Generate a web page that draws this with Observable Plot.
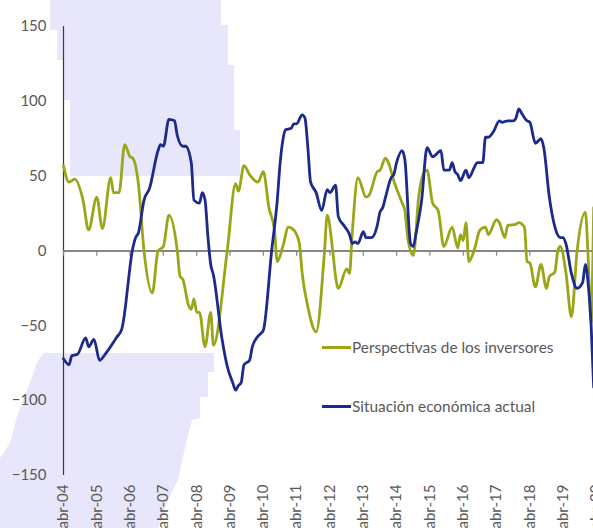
<!DOCTYPE html>
<html><head><meta charset="utf-8">
<script src="https://cdn.jsdelivr.net/npm/d3@7"></script>
<script src="https://cdn.jsdelivr.net/npm/@observablehq/plot@0.6"></script>
<style>
html,body{margin:0;padding:0;background:#fff;overflow:hidden;}
#wrap{position:relative;width:593px;height:528px;overflow:hidden;font-family:Lato,"Open Sans",sans-serif;}
#deco{position:absolute;left:0;top:0;}
#chart{position:absolute;left:0;top:0;}
.leg{position:absolute;font-size:15.4px;color:#595959;white-space:nowrap;line-height:20px;}
.sw{position:absolute;height:3px;width:29px;}
</style></head><body>
<div id="wrap">
<svg id="deco" width="593" height="528">
  <polygon fill="#E8E6FA" points="50,0 221,0 221,25 228,25 228,65 234,65 234,130 240,130 240,176 70,176 70,100 63,100 63,60 57,60 57,30 50,30"/>
  <polygon fill="#E8E6FA" points="44,353 214,353 214,372 208,372 208,397 200,397 200,418 192,420 186,443 178,480 168,500 158,528 0,528 0,458 10,443 18,413 31,380 37,362"/>
</svg>
<div id="chart"></div>
<div class="sw" style="left:322px;top:346px;background:#99A616"></div>
<div class="leg" style="left:352px;top:337px">Perspectivas de los inversores</div>
<div class="sw" style="left:322px;top:405px;background:#1C2A8E"></div>
<div class="leg" style="left:352px;top:396px">Situación económica actual</div>
</div>
<script>
const greenDates = ["2004-04","2004-06","2004-08","2004-11","2005-01","2005-04","2005-06","2005-09","2005-10","2005-12","2006-02","2006-04","2006-05","2006-07","2006-09","2006-12","2007-02","2007-04","2007-06","2007-09","2007-10","2007-11","2008-01","2008-02","2008-03","2008-04","2008-05","2008-07","2008-09","2008-10","2009-03","2009-06","2009-07","2009-09","2009-11","2010-02","2010-04","2010-06","2010-08","2010-09","2010-11","2011-01","2011-03","2011-05","2011-06","2011-08","2011-11","2012-02","2012-03","2012-05","2012-06","2012-07","2012-10","2012-11","2012-12","2013-02","2013-05","2013-06","2013-09","2013-10","2013-12","2014-01","2014-03","2014-06","2014-07","2014-08","2014-10","2014-12","2015-02","2015-03","2015-05","2015-07","2015-09","2015-12","2016-02","2016-03","2016-04","2016-05","2016-06","2016-08","2016-10","2016-12","2017-01","2017-04","2017-05","2017-07","2017-08","2017-11","2017-12","2018-02","2018-03","2018-04","2018-06","2018-08","2018-10","2018-11","2019-01","2019-02","2019-03","2019-05","2019-07","2019-09","2019-12","2020-01","2020-02","2020-03"];
const greenValues = [57,46,48,34,14,36,15,49,39,39,71,63,62,45,0,-28,0,3,24,0,-17,-19,-36,-39,-32,-41,-41,-64,-41,-63,0,45,40,57,51,46,53,29,14,-7,3,16,14,5,-15,-37,-54,0,24,0,-17,-25,-12,-15,12,49,36,37,53,54,62,59,47,32,27,9,-3,37,53,54,32,27,3,16,2,11,7,19,-7,1,14,16,11,21,19,9,17,18,19,16,-7,-8,-24,-9,-25,-17,-14,0,3,-14,-44,0,26,-5,-48,29];

const blueDates = ["2004-04","2004-06","2004-07","2004-09","2004-12","2005-01","2005-03","2005-05","2005-07","2005-10","2005-11","2006-01","2006-05","2006-06","2006-07","2006-09","2006-11","2007-02","2007-03","2007-04","2007-06","2007-08","2007-09","2007-11","2007-12","2008-02","2008-03","2008-05","2008-06","2008-07","2008-08","2008-09","2008-10","2009-01","2009-03","2009-05","2009-06","2009-07","2009-08","2009-09","2009-11","2009-12","2010-02","2010-04","2010-07","2010-09","2010-10","2010-11","2010-12","2011-02","2011-03","2011-04","2011-06","2011-07","2011-08","2011-09","2011-11","2012-01","2012-03","2012-04","2012-06","2012-07","2012-09","2012-11","2012-12","2013-01","2013-02","2013-04","2013-05","2013-07","2013-09","2013-10","2013-11","2013-12","2014-02","2014-03","2014-04","2014-06","2014-07","2014-09","2014-10","2014-11","2015-01","2015-03","2015-05","2015-08","2015-09","2015-11","2015-12","2016-01","2016-02","2016-03","2016-05","2016-06","2016-08","2016-09","2016-11","2016-12","2017-01","2017-03","2017-05","2017-06","2017-08","2017-10","2017-11","2017-12","2018-01","2018-03","2018-04","2018-06","2018-08","2018-09","2018-11","2019-01","2019-03","2019-04","2019-05","2019-07","2019-09","2019-11","2019-12","2020-01","2020-02","2020-03"];
const blueValues = [-72,-76,-70,-69,-58,-64,-59,-73,-69,-61,-58,-52,2,9,12,34,42,67,71,70,88,87,77,70,70,59,34,32,39,34,10,-9,-16,-58,-77,-88,-93,-90,-88,-76,-73,-64,-57,-53,0,34,58,74,81,82,85,85,91,89,70,46,39,27,41,39,44,23,17,11,5,6,5,13,9,9,17,26,29,36,49,51,59,67,61,5,3,12,34,69,63,67,54,54,59,53,51,47,54,49,56,59,59,76,76,80,87,86,87,87,89,95,92,87,86,72,75,69,36,16,9,9,5,-15,-25,-21,-9,-22,-48,-91];

const tickDates = ["2004-04","2005-04","2006-04","2007-04","2008-04","2009-04","2010-04","2011-04","2012-04","2013-04","2014-04","2015-04","2016-04","2017-04","2018-04","2019-04","2020-04"];
const tickLabels = ["abr-04","abr-05","abr-06","abr-07","abr-08","abr-09","abr-10","abr-11","abr-12","abr-13","abr-14","abr-15","abr-16","abr-17","abr-18","abr-19","abr-20"];
const yTicks = [-150,-100,-50,0,50,100,150];

const parse = d3.utcParse("%Y-%m");
const green = greenDates.map((d, i) => ({date: parse(d), value: greenValues[i]}));
const blue = blueDates.map((d, i) => ({date: parse(d), value: blueValues[i]}));
const ticks = tickDates.map(parse);

const chart = Plot.plot({
  width: 593,
  height: 528,
  marginLeft: 63,
  marginRight: -3,
  marginTop: 26,
  marginBottom: 53,
  style: {background: "transparent", fontFamily: "Lato, 'Open Sans', sans-serif", fontSize: "15px", color: "#595959", overflow: "hidden"},
  x: {type: "utc", domain: [ticks[0], ticks[ticks.length - 1]]},
  y: {domain: [-150, 150]},
  marks: [
    Plot.axisY({ticks: yTicks, tickSize: 0, tickPadding: 17, label: null, fontSize: 15, fill: "#595959"}),
    Plot.axisX({ticks: ticks, tickFormat: (d) => tickLabels[ticks.findIndex(t => +t === +d)], tickRotate: -90, tickSize: 0, tickPadding: 9, label: null, fontSize: 15, fill: "#595959"}),
    Plot.ruleX([ticks[0]], {y1: -150, y2: 150, stroke: "#3a3a3a", strokeWidth: 1.2}),
    Plot.ruleY([0], {stroke: "#868686", strokeWidth: 2}),
    Plot.ruleX(ticks, {y1: 0, y2: -3.5, stroke: "#868686", strokeWidth: 1.2}),
    Plot.line(green, {x: "date", y: "value", stroke: "#99A616", strokeWidth: 2.8, curve: "monotone-x"}),
    Plot.line(blue, {x: "date", y: "value", stroke: "#1C2A8E", strokeWidth: 2.8, curve: "monotone-x"})
  ]
});
document.getElementById("chart").appendChild(chart);
</script>
</body></html>
